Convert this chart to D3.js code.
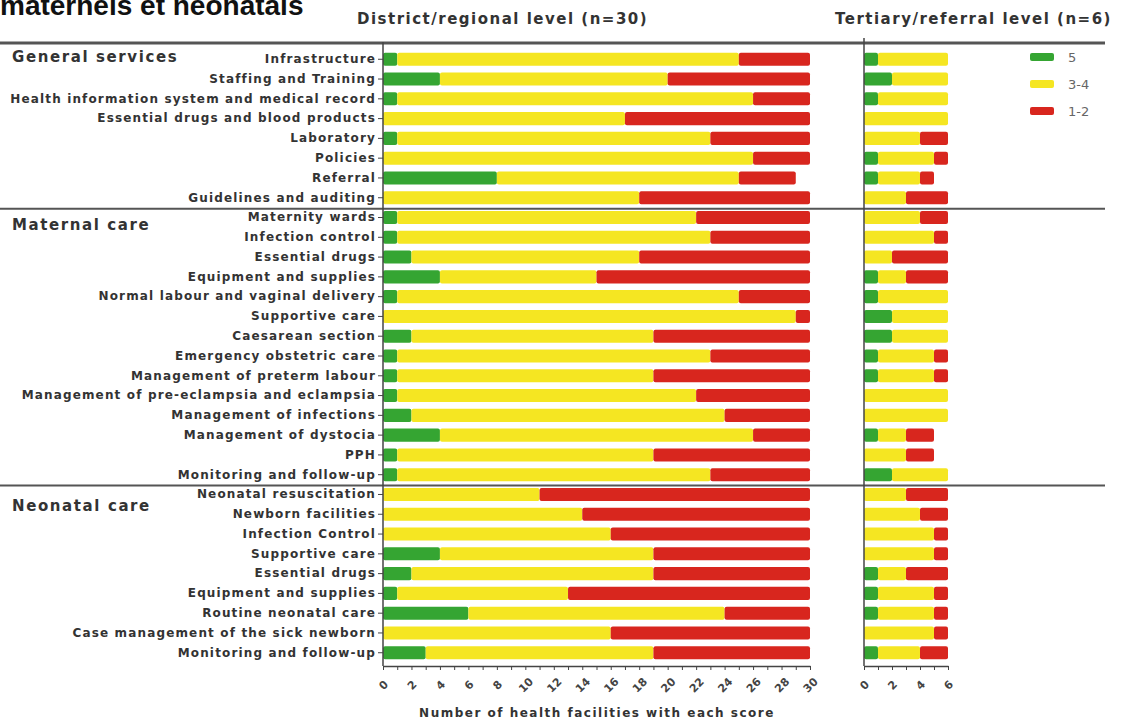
<!DOCTYPE html>
<html>
<head>
<meta charset="utf-8">
<script src="https://cdn.jsdelivr.net/npm/d3@7"></script>
<style>
  body { margin: 0; background: #fff; overflow: hidden; }
  text { font-family: "DejaVu Sans", sans-serif; }
</style>
</head>
<body>
<div id="container"></div>
<script>
let w = 1122;
let h = 719;

// rows (top to bottom) and section names
let sections = ["General services", "Maternal care", "Neonatal care"];
let items = [
  "Infrastructure", "Staffing and Training", "Health information system and medical record",
  "Essential drugs and blood products", "Laboratory", "Policies", "Referral", "Guidelines and auditing",
  "Maternity wards", "Infection control", "Essential drugs", "Equipment and supplies",
  "Normal labour and vaginal delivery", "Supportive care", "Caesarean section", "Emergency obstetric care",
  "Management of preterm labour", "Management of pre-eclampsia and eclampsia", "Management of infections",
  "Management of dystocia", "PPH", "Monitoring and follow-up",
  "Neonatal resuscitation", "Newborn facilities", "Infection Control", "Supportive care",
  "Essential drugs", "Equipment and supplies", "Routine neonatal care",
  "Case management of the sick newborn", "Monitoring and follow-up"
];
let itemSection = [0,0,0,0,0,0,0,0, 1,1,1,1,1,1,1,1,1,1,1,1,1,1, 2,2,2,2,2,2,2,2,2];

// District/regional level (n=30): score 5, 3-4, 1-2
let distScore5  = [1,4,1,0,1,0,8,0, 1,1,2,4,1,0,2,1,1,1,2,4,1,1, 0,0,0,4,2,1,6,0,3];
let distScore34 = [24,16,25,17,22,26,17,18, 21,22,16,11,24,29,17,22,18,21,22,22,18,22, 11,14,16,15,17,12,18,16,16];
let distScore12 = [5,10,4,13,7,4,4,12, 8,7,12,15,5,1,11,7,11,8,6,4,11,7, 19,16,14,11,11,17,6,14,11];

// Tertiary/referral level (n=6)
let tertScore5  = [1,2,1,0,0,1,1,0, 0,0,0,1,1,2,2,1,1,0,0,1,0,2, 0,0,0,0,1,1,1,0,1];
let tertScore34 = [5,4,5,6,4,4,3,3, 4,5,2,2,5,4,4,4,4,6,6,2,3,4, 3,4,5,5,2,4,4,5,3];
let tertScore12 = [0,0,0,0,2,1,1,3, 2,1,4,3,0,0,0,1,1,0,0,2,2,0, 3,2,1,1,3,1,1,1,2];

let legendLabels = ["5", "3-4", "1-2"];
let colors = ["#35a532", "#f5e622", "#d8261e"];

let distTicks = d3.range(0, 31, 2);
let tertTicks = [0, 2, 4, 6];

let svg = d3.select("#container").append("svg")
  .attr("width", w)
  .attr("height", h);

let rowIds = items.map(function(d, i){ return i; });
let yScale = d3.scaleBand().domain(rowIds).range([46, 666]).padding(0.34);
let xDist = d3.scaleLinear().domain([0, 30]).range([383, 810]);
let xTert = d3.scaleLinear().domain([0, 6]).range([864, 948]);

// title fragment at top (clipped in original)
svg.append("text")
  .text("maternels et néonatals")
  .attr("x", 0)
  .attr("y", 15)
  .style("font-family", "Liberation Sans, Arial, sans-serif")
  .attr("font-size", 28)
  .attr("font-weight", "bold")
  .attr("fill", "#111");

// panel headers
svg.append("text").text("District/regional level (n=30)")
  .attr("x", 357).attr("y", 24)
  .attr("font-size", 15).attr("letter-spacing", 1.5)
  .attr("font-weight", "bold").attr("fill", "#333");
svg.append("text").text("Tertiary/referral level (n=6)")
  .attr("x", 835).attr("y", 24)
  .attr("font-size", 15).attr("letter-spacing", 1.5)
  .attr("font-weight", "bold").attr("fill", "#333");

// stacked bars
function drawPanel(xScale, s5, s34, s12){
  let g = svg.append("g");
  items.forEach(function(d, i){
    let vals = [s5[i], s34[i], s12[i]];
    let start = 0;
    vals.forEach(function(v, k){
      if(v > 0){
        g.append("rect")
          .attr("x", xScale(start))
          .attr("y", yScale(i))
          .attr("width", xScale(start + v) - xScale(start))
          .attr("height", yScale.bandwidth())
          .attr("rx", 2)
          .attr("fill", colors[k]);
      }
      start += v;
    });
  });
}
drawPanel(xDist, distScore5, distScore34, distScore12);
drawPanel(xTert, tertScore5, tertScore34, tertScore12);

// horizontal section lines + section titles
let titleOffsets = [19, 21, 25];
let sepRows = [0];
itemSection.forEach(function(s, i){
  if(i > 0 && s != itemSection[i-1]) sepRows.push(i);
});
sepRows.forEach(function(r, j){
  let yy = r == 0 ? 43 : yScale(r) - (yScale.step() - yScale.bandwidth()) / 2 + 1;
  svg.append("line")
    .attr("x1", 0).attr("x2", 1105)
    .attr("y1", yy).attr("y2", yy)
    .attr("stroke", "#555")
    .attr("stroke-width", j == 0 ? 3 : 2);
  svg.append("text").text(sections[j])
    .attr("x", 12)
    .attr("y", yy + titleOffsets[j])
    .attr("font-size", 15)
    .attr("font-weight", "bold")
    .attr("letter-spacing", 1.6)
    .attr("fill", "#333");
});

// left y axis with item labels
let yAxis = d3.axisLeft(yScale).tickSize(5).tickSizeOuter(0)
  .tickFormat(function(d){ return items[d]; });
let yAxisGroup = svg.append("g")
  .attr("transform", "translate(383, 0)")
  .call(yAxis);
yAxisGroup.select(".domain").remove();
yAxisGroup.append("line").attr("x1", 0).attr("x2", 0).attr("y1", 42).attr("y2", 666)
  .attr("stroke", "#444").attr("stroke-width", 1.5);
yAxisGroup.selectAll(".tick line").attr("stroke", "#444");
yAxisGroup.selectAll(".tick text")
  .attr("x", -7)
  .style("font-family", "DejaVu Sans, sans-serif")
  .attr("font-size", 12)
  .attr("letter-spacing", 1.15)
  .attr("font-weight", "bold")
  .attr("fill", "#333");

// right panel vertical line
svg.append("line").attr("x1", 864).attr("x2", 864).attr("y1", 38).attr("y2", 666)
  .attr("stroke", "#444").attr("stroke-width", 1.5);

// x axes
function buildXAxis(xScale, ticks, max){
  let xAxis = d3.axisBottom(xScale).tickValues(d3.range(0, max + 1)).tickSize(4).tickSizeOuter(0)
    .tickFormat(function(d){ return ticks.indexOf(d) >= 0 ? d : ""; });
  let g = svg.append("g")
    .attr("transform", "translate(0, 666)")
    .call(xAxis);
  g.select(".domain").attr("stroke", "#444").attr("stroke-width", 1.5);
  g.selectAll(".tick line").attr("stroke", "#444");
  g.selectAll(".tick text")
    .attr("y", 0)
    .attr("dy", "0.35em")
    .attr("text-anchor", "middle")
    .attr("transform", "translate(0, 19) rotate(-45)")
    .style("font-family", "DejaVu Sans, sans-serif")
    .attr("font-size", 11)
    .attr("font-weight", "bold")
    .attr("fill", "#444");
}
buildXAxis(xDist, distTicks, 30);
buildXAxis(xTert, tertTicks, 6);

svg.append("text").text("Number of health facilities with each score")
  .attr("x", 597).attr("y", 717)
  .attr("text-anchor", "middle")
  .attr("font-size", 12).attr("letter-spacing", 1.5)
  .attr("font-weight", "bold").attr("fill", "#333");

// legend
legendLabels.forEach(function(d, i){
  svg.append("rect")
    .attr("x", 1030).attr("y", 53 + i * 27)
    .attr("width", 24).attr("height", 8)
    .attr("rx", 2)
    .attr("fill", colors[i]);
  svg.append("text").text(d)
    .attr("x", 1068).attr("y", 62 + i * 27)
    .attr("font-size", 13).attr("fill", "#666");
});
</script>
</body>
</html>
